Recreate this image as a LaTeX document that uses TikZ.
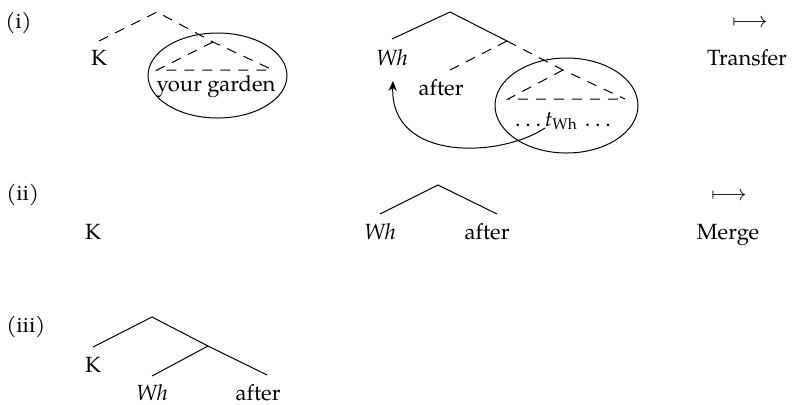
\documentclass[tikz,border=0pt]{standalone}
\usepackage{fontspec}
\setmainfont{TeX Gyre Pagella}
\usetikzlibrary{arrows.meta}
\newcommand{\spdots}{.\kern2.4pt.\kern2.4pt.}
\begin{document}
\begin{tikzpicture}[x=0.5pt,y=-0.5pt,
  lbl/.style={inner sep=0pt,anchor=base,font=\fontsize{11}{13.6}\selectfont},
  exlbl/.style={lbl,anchor=base west},
  branch/.style={line width=0.5pt},
  dbranch/.style={line width=0.5pt,dash pattern=on 5pt off 4pt},
  bubble/.style={line width=0.5pt},
  mv/.style={line width=0.5pt,-{Stealth[length=5pt,width=4.2pt,inset=1.6pt]}}]
\useasboundingbox (0,0) rectangle (794,404);
% ---------- labels ----------
\node[exlbl] (exi) at (5,28) {(i)};
\node[exlbl] (exii) at (6,200) {(ii)};
\node[exlbl] (exiii) at (6,332) {(iii)};
% (i) left
\node[lbl] (K1) at (99,65) {K};
\node[lbl] (yg) at (216,91) {your garden};
% (i) middle
\node[lbl] (Wh1) at (392,65) {\textit{Wh}};
\node[lbl] (af1) at (441,95) {after};
\node[lbl] (tr1) at (563,126) {\spdots\kern2pt\textit{t}\textsubscript{Wh}\kern3.5pt\spdots};
% (i) right
\node[lbl] (ar1) at (750,27) {$\longmapsto$};
\node[lbl] (Tr) at (747,65) {Transfer};
% (ii)
\node[lbl] (K2) at (93,239) {K};
\node[lbl] (Wh2) at (380,239) {\textit{Wh}};
\node[lbl] (af2) at (487,239) {after};
\node[lbl] (ar2) at (729,200) {$\longmapsto$};
\node[lbl] (Mg) at (728,239) {Merge};
% (iii)
\node[lbl] (K3) at (93,372) {K};
\node[lbl] (Wh3) at (152,400) {\textit{Wh}};
\node[lbl] (af3) at (258,400) {after};
% ---------- tree (i) left ----------
\coordinate (rA) at (157,12);
\coordinate (kA) at (99,41);
\coordinate (gA) at (213,42);
\coordinate (tlA) at (157,70);
\coordinate (trA) at (273,70);
\draw[dbranch] (kA) -- (rA) -- (gA) -- (trA);
\draw[dbranch] (gA) -- (tlA) -- (trA);
\draw[bubble] (217.5,75.5) ellipse [x radius=34.75pt, y radius=21.25pt];
% ---------- tree (i) middle ----------
\coordinate (rB) at (450,12);
\coordinate (whB) at (392,39);
\coordinate (xB) at (507,41);
\coordinate (afB) at (450,70);
\coordinate (yB) at (563,70);
\coordinate (blB) at (508,99);
\coordinate (brB) at (625,99);
\draw[branch] (whB) -- (rB) -- (xB);
\draw[dbranch] (afB) -- (xB);
\draw[dbranch] (xB) -- (yB) -- (brB);
\draw[dbranch] (yB) -- (blB) -- (brB);
\draw[bubble] (566.5,105.5) ellipse [x radius=35.75pt, y radius=23.75pt];
\coordinate (mvS) at (545,128);
\coordinate (mvE) at (393,81);
\draw[mv] (mvS) .. controls (500,158) and (390,162) .. (mvE);
% ---------- tree (ii) ----------
\coordinate (rC) at (438,185);
\coordinate (whC) at (380,214);
\coordinate (afC) at (497,214);
\draw[branch] (whC) -- (rC) -- (afC);
% ---------- tree (iii) ----------
\coordinate (rD) at (152,317);
\coordinate (kD) at (93,347);
\coordinate (xD) at (208,346);
\coordinate (whD) at (152,376);
\coordinate (afD) at (267,375);
\draw[branch] (kD) -- (rD) -- (xD) -- (afD);
\draw[branch] (xD) -- (whD);
\end{tikzpicture}
\end{document}
